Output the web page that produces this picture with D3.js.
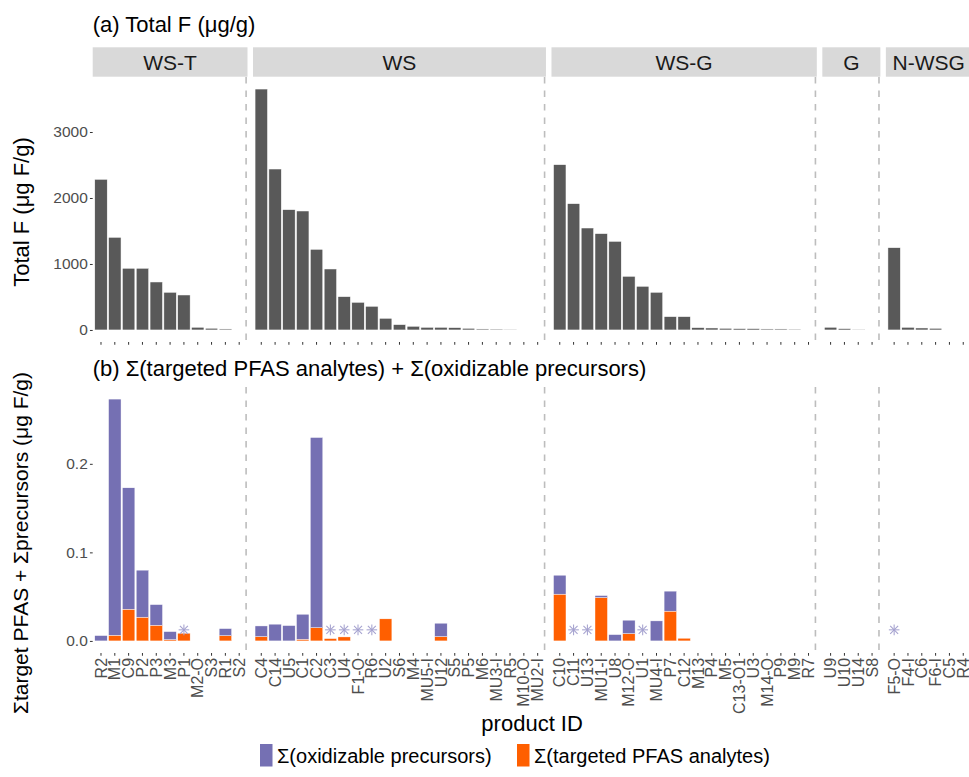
<!DOCTYPE html>
<html><head><meta charset="utf-8">
<script src="https://cdn.jsdelivr.net/npm/d3@7"></script>
<style>
body{margin:0;background:#fff}
svg{display:block}
text{font-family:"Liberation Sans",Arial,Helvetica,sans-serif}
</style>
</head><body>
<svg id="chart" width="969" height="777"></svg>
<script>
// ---------------- DATA ----------------
const facets = ["WS-T","WS","WS-G","G","N-WSG"];
const productIds = [
  "R2","M1","C9","P2","P3","M3","P1","M2-O","S3","R1","S2",
  "C4","C14","U5","C1","C2","C3","U4","F1-O","R6","U2","S6","M4","MU5-I","U12","S5","P5","M6","MU3-I","R5","M10-O","MU2-I",
  "C10","C11","U13","MU1-I","U8","M12-O","U1","MU4-I","P7","C12","M13","P4","M5","C13-O1","U3","M14-O","P9","M9","R7",
  "U9","U10","U14","S8",
  "F5-O","F4-I","C6","F6-I","C5","R4"
];
const productFacet = [
  ...Array(11).fill("WS-T"), ...Array(21).fill("WS"), ...Array(19).fill("WS-G"),
  ...Array(4).fill("G"), ...Array(6).fill("N-WSG")
];
// (a) Total F, µg F/g
const totalF = [
  2283,1404,935,935,727,571,530,41,26,15,null,
  3651,2439,1823,1803,1222,924,505,419,359,177,81,56,40,40,35,25,15,13,10,null,null,
  2505,1914,1545,1460,1343,813,662,571,202,202,35,30,25,20,20,15,15,12,null,
  41,20,10,null,
  1247,40,30,25,null,null
];
// (b) Σ targeted PFAS analytes, µg F/g
const targetedPFAS = [
  0,0.0064,0.0358,0.0268,0.0177,0.0015,0.0087,null,null,0.006,null,
  0.0049,0,0,0.0019,0.015,0.0026,0.0045,null,null,0.0249,null,null,null,0.0049,null,null,null,null,null,null,null,
  0.0528,null,null,0.049,0,0.0083,null,0,0.0336,0.003,null,null,null,null,null,null,null,null,null,
  null,null,null,null,
  null,null,null,null,null,null
];
// (b) Σ oxidizable precursors, µg F/g
const oxidizablePrecursors = [
  0.006,0.2667,0.1371,0.0531,0.0233,0.009,0,null,null,0.0079,null,
  0.012,0.0189,0.0173,0.0282,0.2147,0,0,null,null,0,null,null,null,0.0151,null,null,null,null,null,null,null,
  0.0214,null,null,0.0022,0.0071,0.0151,null,0.0226,0.0226,0,null,null,null,null,null,null,null,null,null,
  null,null,null,null,
  null,null,null,null,null,null
];
// products marked with an asterisk in (b)
const asteriskIds = ["P1","C3","U4","F1-O","R6","C11","U13","U1","F5-O"];
const asteriskLevel = 0.0125;

const topTicks = [0,1000,2000,3000];
const bottomTicks = [0,0.1,0.2];
const bottomTickLabels = ["0.0","0.1","0.2"];

const seriesNames = ["Σ(oxidizable precursors)","Σ(targeted PFAS analytes)"];
const seriesColors = ["#7570b3","#ff5f00"];

// ---------------- LAYOUT ----------------
const svg = d3.select("#chart");
const step = 13.82, gap = 5.5, x0 = 92.7;
const topP = {y0:77, y1:342};
const botP = {y0:387, y1:653};
const tickLen = 2.75, tickPad = 2.2;
const axisTextColor = "#4d4d4d", tickColor = "#333333";

const rows = productIds.map((id,i)=>({id, facet:productFacet[i], total:totalF[i],
  t:targetedPFAS[i], p:oxidizablePrecursors[i], star:asteriskIds.includes(id)}));

let xc = x0;
const panels = facets.map(f=>{
  const ids = rows.filter(r=>r.facet===f).map(r=>r.id);
  const w = (ids.length + 0.2) * step;
  const sc = d3.scaleBand().domain(ids).range([xc, xc+w]).paddingInner(0.1).paddingOuter(0.15);
  const p = {facet:f, ids, x:xc, w, sc};
  xc += w + gap;
  return p;
});
const xOf = {};
panels.forEach(p=>p.ids.forEach(id=>xOf[id]=p.sc));

const maxTop = d3.max(totalF);
const yTop = d3.scaleLinear().domain([-0.05*maxTop, 1.05*maxTop]).range([topP.y1, topP.y0]);
const maxBot = d3.max(rows, r=>(r.t||0)+(r.p||0));
const yBot = d3.scaleLinear().domain([-0.05*maxBot, 1.05*maxBot]).range([botP.y1, botP.y0]);

// ---------------- TITLES ----------------
svg.append("text").attr("x",x0).attr("y",31.5).attr("font-size",22).attr("fill","#000")
  .text("(a) Total F (μg/g)");
svg.append("text").attr("x",x0).attr("y",375.5).attr("font-size",22).attr("fill","#000")
  .text("(b) Σ(targeted PFAS analytes) + Σ(oxidizable precursors)");

// ---------------- STRIPS ----------------
panels.forEach(p=>{
  svg.append("rect").attr("x",p.x).attr("y",47.3).attr("width",p.w).attr("height",29.4).attr("fill","#d9d9d9");
  svg.append("text").attr("x",p.x+p.w/2).attr("y",69.5).attr("text-anchor","middle")
    .attr("font-size",21).attr("fill","#1a1a1a").text(p.facet);
});

// ---------------- DASHED SEPARATORS ----------------
panels.forEach(p=>{
  const last = p.ids[p.ids.length-1];
  const xv = p.sc(last) + p.sc.bandwidth()/2 + step/2;
  [topP, botP].forEach(P=>{
    svg.append("line").attr("x1",xv).attr("x2",xv).attr("y1",P.y0).attr("y2",P.y1)
      .attr("stroke","#bdbdbd").attr("stroke-width",1.6).attr("stroke-dasharray","6.5,7");
  });
});

// ---------------- TOP BARS ----------------
svg.append("g").selectAll("rect").data(rows.filter(r=>r.total!=null)).join("rect")
  .attr("x",r=>xOf[r.id](r.id)).attr("width",r=>xOf[r.id].bandwidth())
  .attr("y",r=>yTop(r.total)).attr("height",r=>yTop(0)-yTop(r.total))
  .attr("fill","#595959").attr("stroke","#ffffff").attr("stroke-width",0.5);

// ---------------- BOTTOM STACKED BARS ----------------
const gb = svg.append("g");
rows.forEach(r=>{
  const sc = xOf[r.id];
  const t = r.t||0, p = r.p||0;
  if (r.t!=null && t>0) {
    gb.append("rect").attr("x",sc(r.id)).attr("width",sc.bandwidth())
      .attr("y",yBot(t)).attr("height",yBot(0)-yBot(t))
      .attr("fill",seriesColors[1]).attr("stroke","#fff").attr("stroke-width",0.4);
  }
  if (r.p!=null && p>0) {
    gb.append("rect").attr("x",sc(r.id)).attr("width",sc.bandwidth())
      .attr("y",yBot(t+p)).attr("height",yBot(t)-yBot(t+p))
      .attr("fill",seriesColors[0]).attr("stroke","#fff").attr("stroke-width",0.4);
  }
});
// asterisks
const rs = 5.3, rd = rs*0.75;
rows.filter(r=>r.star).forEach(r=>{
  const sc = xOf[r.id];
  const cx = sc(r.id)+sc.bandwidth()/2, cy = yBot(asteriskLevel);
  const g = svg.append("g").attr("stroke","#a5a2cf").attr("stroke-width",1.05);
  g.append("line").attr("x1",cx-rs).attr("x2",cx+rs).attr("y1",cy).attr("y2",cy);
  g.append("line").attr("x1",cx).attr("x2",cx).attr("y1",cy-rs).attr("y2",cy+rs);
  g.append("line").attr("x1",cx-rd).attr("x2",cx+rd).attr("y1",cy-rd).attr("y2",cy+rd);
  g.append("line").attr("x1",cx-rd).attr("x2",cx+rd).attr("y1",cy+rd).attr("y2",cy-rd);
});

// ---------------- AXES ----------------
function styleAxis(g){
  g.select(".domain").remove();
  g.selectAll(".tick line").attr("stroke",tickColor).attr("stroke-width",1);
  g.selectAll(".tick text").attr("fill",axisTextColor).attr("font-size",15.5)
    .attr("font-family",'"Liberation Sans",Arial,sans-serif');
}
// y axes
svg.append("g").attr("transform",`translate(${x0},0)`)
  .call(d3.axisLeft(yTop).tickValues(topTicks).tickFormat(d3.format("d")).tickSize(tickLen).tickPadding(tickPad))
  .call(styleAxis);
svg.append("g").attr("transform",`translate(${x0},0)`)
  .call(d3.axisLeft(yBot).tickValues(bottomTicks).tickFormat((d,i)=>bottomTickLabels[i]).tickSize(tickLen).tickPadding(tickPad))
  .call(styleAxis);
// x axes
panels.forEach(p=>{
  svg.append("g").attr("transform",`translate(0,${topP.y1})`)
    .call(d3.axisBottom(p.sc).tickSize(tickLen).tickFormat(""))
    .call(styleAxis);
  const gx = svg.append("g").attr("transform",`translate(0,${botP.y1})`)
    .call(d3.axisBottom(p.sc).tickSize(tickLen).tickPadding(tickPad))
    .call(styleAxis);
  gx.selectAll(".tick text").attr("transform","rotate(-90)").attr("text-anchor","end")
    .attr("x",-(tickLen+tickPad)).attr("y",0).attr("dy","0.35em").attr("font-size",16);
});

// axis titles
svg.append("text").attr("transform",`translate(28.5,212) rotate(-90)`)
  .attr("text-anchor","middle").attr("font-size",22).attr("fill","#000").text("Total F (μg F/g)");
svg.append("text").attr("transform",`translate(28,543) rotate(-90)`)
  .attr("text-anchor","middle").attr("font-size",21).attr("fill","#000").text("Σtarget PFAS + Σprecursors (μg F/g)");
svg.append("text").attr("x",(x0 + xc - gap)/2).attr("y",731).attr("text-anchor","middle")
  .attr("font-size",22).attr("fill","#000").text("product ID");

// ---------------- LEGEND ----------------
const legendX = [260, 517];
seriesNames.forEach((name,i)=>{
  svg.append("rect").attr("x",legendX[i]).attr("y",744).attr("width",12.5).attr("height",22.5).attr("fill",seriesColors[i]);
  svg.append("text").attr("x",legendX[i]+17).attr("y",762.5).attr("font-size",20).attr("fill","#000").text(name);
});
</script>
</body></html>
